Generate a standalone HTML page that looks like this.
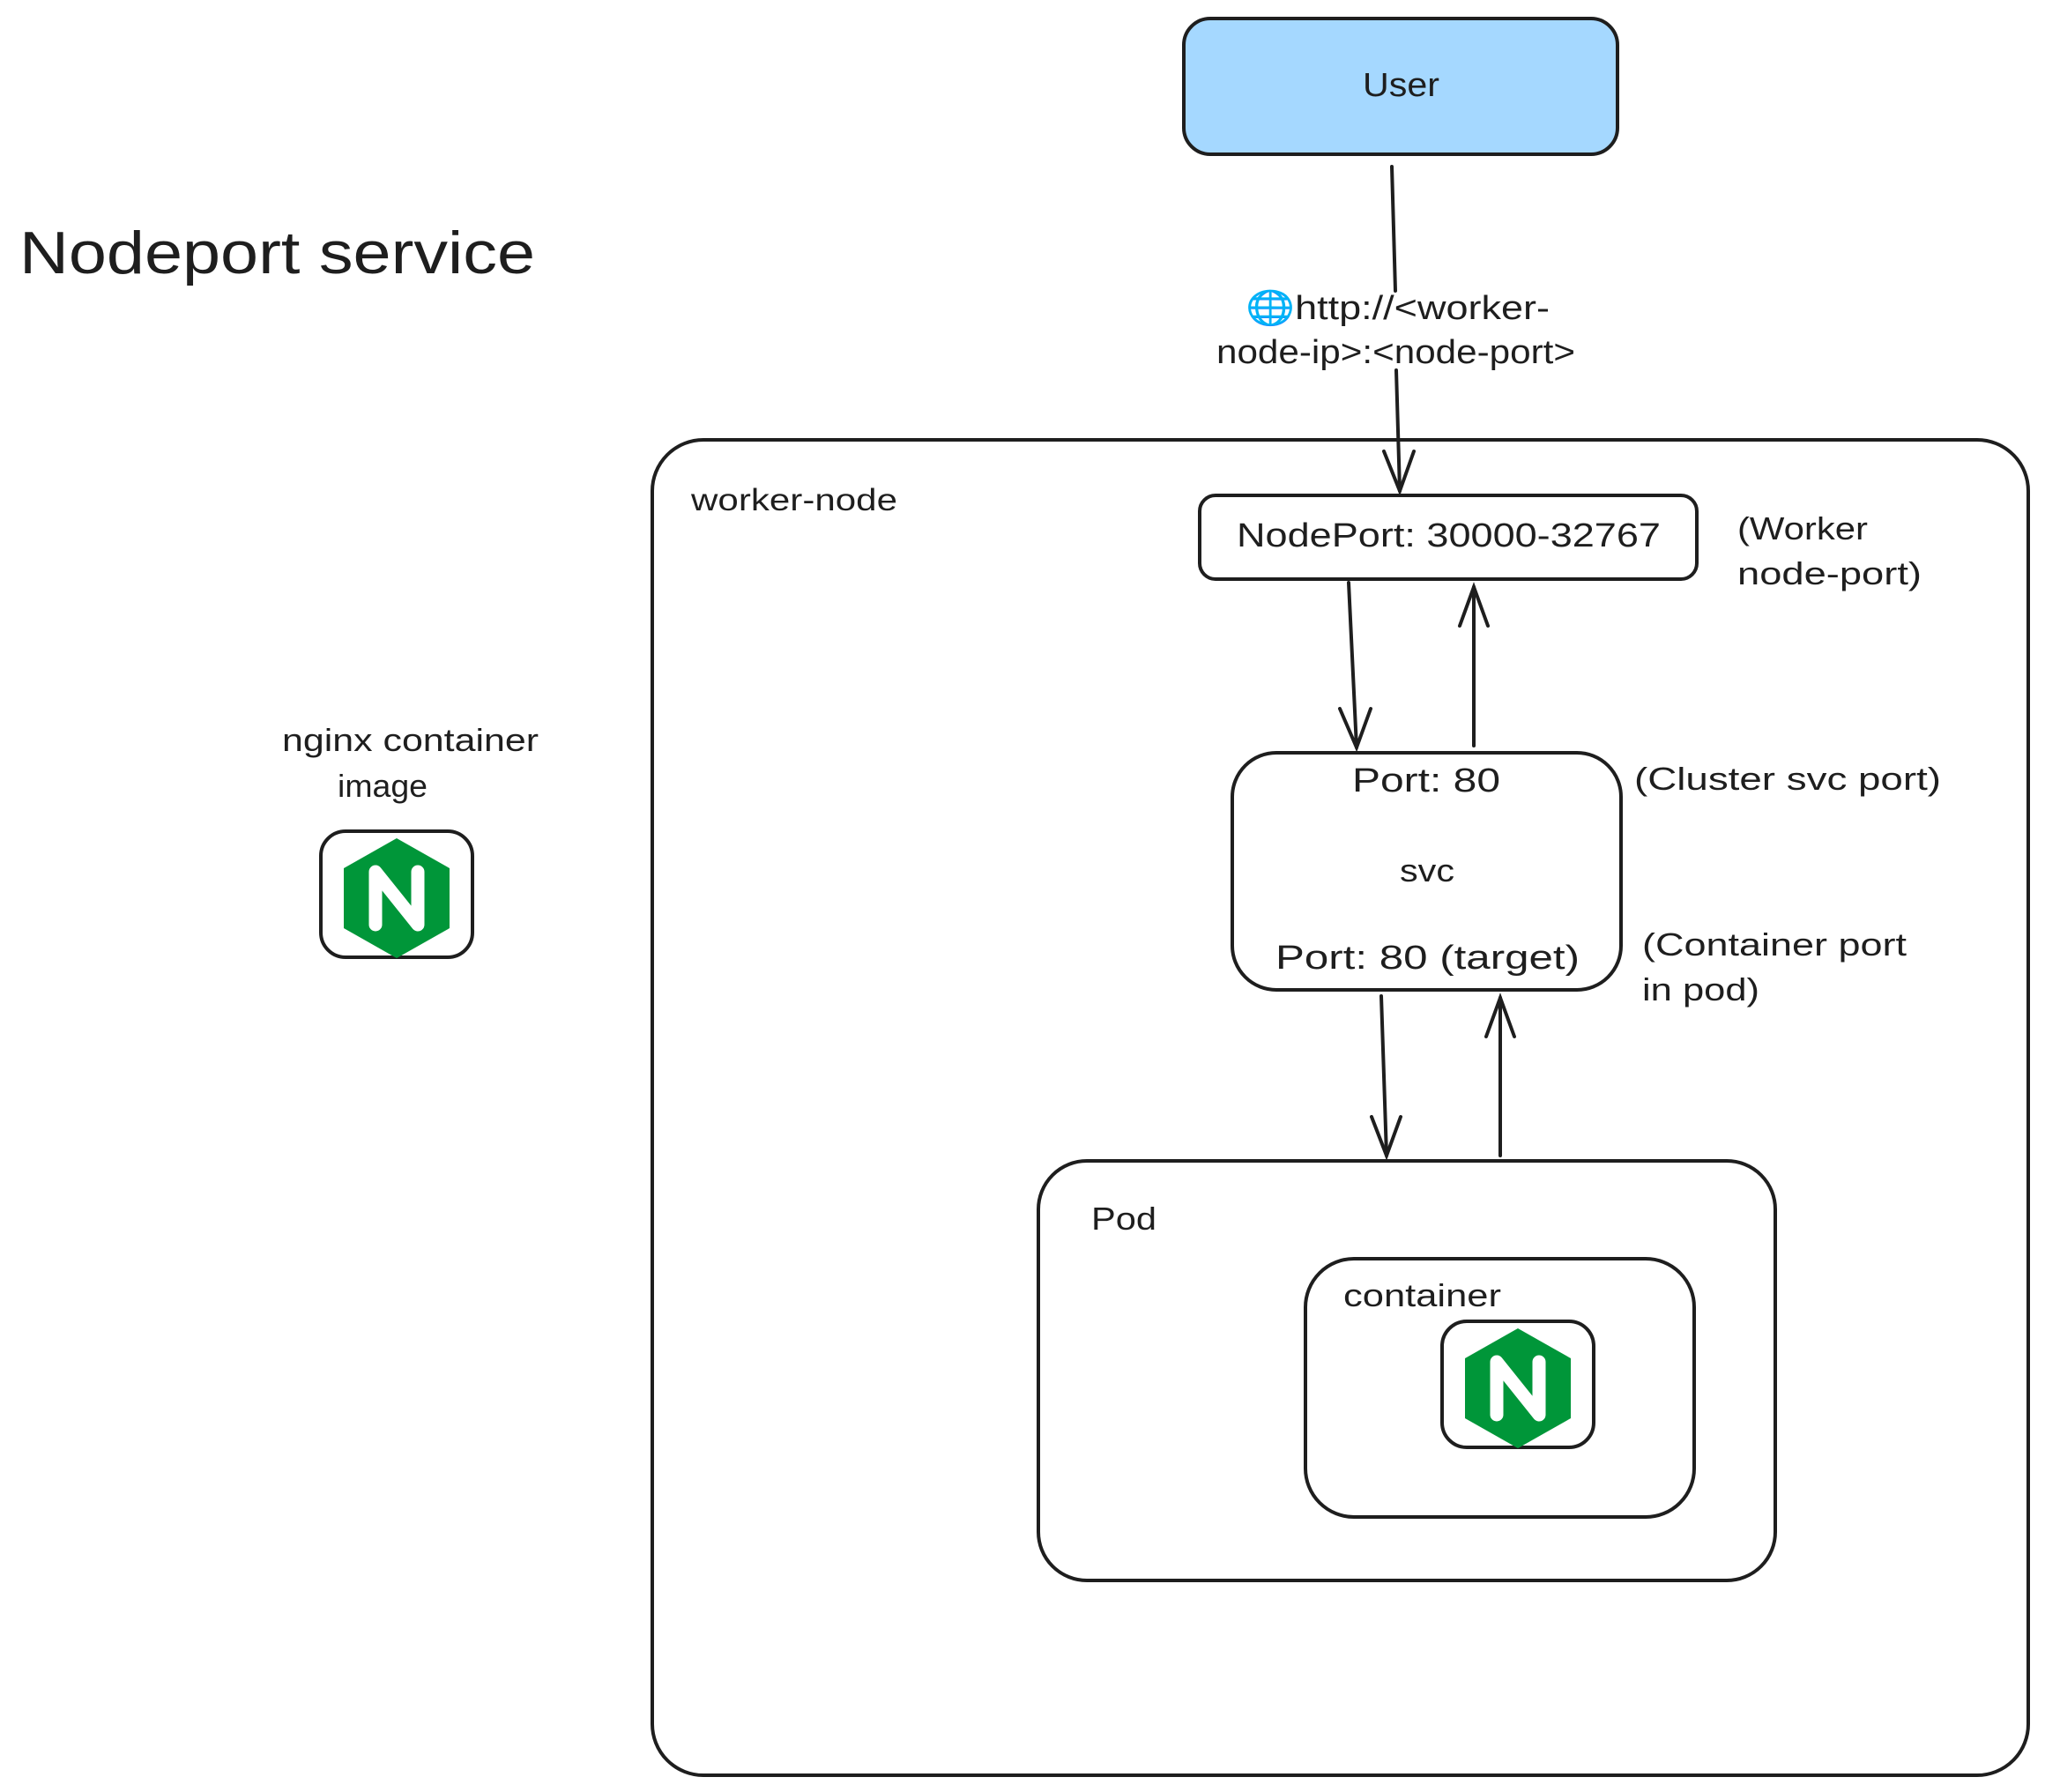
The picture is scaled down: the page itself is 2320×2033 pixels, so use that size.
<!DOCTYPE html>
<html><head><meta charset="utf-8"><style>
html,body{margin:0;padding:0;background:#fff;}
svg{display:block}
text{font-family:"Liberation Sans","DejaVu Sans",sans-serif;fill:#1e1e1e}
</style></head><body>
<svg width="2320" height="2033" viewBox="0 0 2320 2033" xmlns="http://www.w3.org/2000/svg">
<defs>
<g id="ngx">
  <rect x="0" y="0" width="172" height="143" rx="28" fill="#fff" stroke="#1e1e1e" stroke-width="4"/>
  <polygon points="86,8 146,42 146,110 86,144 26,110 26,42" fill="#009639"/>
  <path d="M62,106 V46 L110,106 V46" fill="none" stroke="#fff" stroke-width="15" stroke-linejoin="round" stroke-linecap="round"/>
</g>
</defs>
<g fill="none" stroke="#1e1e1e" stroke-width="4" stroke-linecap="round">
  <rect x="1343" y="21" width="492" height="154" rx="30" fill="#a5d8ff"/>
  <rect x="740" y="499" width="1561" height="1515" rx="58"/>
  <rect x="1361" y="562" width="564" height="95" rx="18"/>
  <rect x="1398" y="854" width="441" height="269" rx="50"/>
  <rect x="1178" y="1317" width="836" height="476" rx="55"/>
  <rect x="1481" y="1428" width="441" height="293" rx="55"/>
  <path d="M1579,189 L1583,330 M1584,420 L1588,557"/>
  <path d="M1570,512 L1588,557 L1604,512"/>
  <path d="M1530,661 L1539,848"/>
  <path d="M1520,804 L1539,848 L1555,804"/>
  <path d="M1672,846 L1672,666"/>
  <path d="M1656,710 L1672,666 L1688,710"/>
  <path d="M1567,1130 L1573,1311"/>
  <path d="M1556,1267 L1573,1311 L1589,1267"/>
  <path d="M1702,1311 L1702,1132"/>
  <path d="M1686,1176 L1702,1132 L1718,1176"/>
</g>
<use href="#ngx" x="364" y="943"/>
<use href="#ngx" x="1636" y="1499"/>
<text x="1546" y="109" font-size="38" textLength="87" lengthAdjust="spacingAndGlyphs">User</text>
<text x="22" y="310" font-size="68" textLength="585" lengthAdjust="spacingAndGlyphs">Nodeport service</text>
<text x="1413" y="362" font-size="38" textLength="345" lengthAdjust="spacingAndGlyphs"><tspan fill="#4aa3df">🌐</tspan>http://&lt;worker-</text>
<text x="1380" y="412" font-size="38" textLength="407" lengthAdjust="spacingAndGlyphs">node-ip&gt;:&lt;node-port&gt;</text>
<text x="784" y="579" font-size="35" textLength="234" lengthAdjust="spacingAndGlyphs">worker-node</text>
<text x="1403" y="620" font-size="38" textLength="481" lengthAdjust="spacingAndGlyphs">NodePort: 30000-32767</text>
<text x="1971" y="612" font-size="36" textLength="148" lengthAdjust="spacingAndGlyphs">(Worker</text>
<text x="1971" y="663" font-size="36" textLength="209" lengthAdjust="spacingAndGlyphs">node-port)</text>
<text x="1534" y="898" font-size="38" textLength="168" lengthAdjust="spacingAndGlyphs">Port: 80</text>
<text x="1588" y="1000" font-size="36" textLength="62" lengthAdjust="spacingAndGlyphs">svc</text>
<text x="1447" y="1099" font-size="38" textLength="345" lengthAdjust="spacingAndGlyphs">Port: 80 (target)</text>
<text x="1854" y="896" font-size="36" textLength="348" lengthAdjust="spacingAndGlyphs">(Cluster svc port)</text>
<text x="1863" y="1084" font-size="36" textLength="300" lengthAdjust="spacingAndGlyphs">(Container port</text>
<text x="1863" y="1135" font-size="36" textLength="133" lengthAdjust="spacingAndGlyphs">in pod)</text>
<text x="1238" y="1395" font-size="36" textLength="74" lengthAdjust="spacingAndGlyphs">Pod</text>
<text x="1524" y="1482" font-size="36" textLength="179" lengthAdjust="spacingAndGlyphs">container</text>
<text x="320" y="852" font-size="36" textLength="291" lengthAdjust="spacingAndGlyphs">nginx container</text>
<text x="383" y="904" font-size="36" textLength="102" lengthAdjust="spacingAndGlyphs">image</text>
</svg>
</body></html>
